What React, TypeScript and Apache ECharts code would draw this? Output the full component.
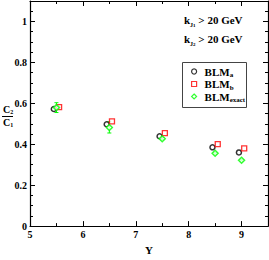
import React, { useEffect, useRef } from "react";
import * as echarts from "echarts";

const xA = [5.45, 6.45, 7.45, 8.45, 8.95];
const yA = [0.572, 0.498, 0.439, 0.385, 0.36];
const xB = [5.55, 6.55, 7.55, 8.55, 9.05];
const yB = [0.581, 0.512, 0.454, 0.401, 0.38];
const xE = [5.5, 6.5, 7.5, 8.5, 9.0];
const yE = [0.579, 0.482, 0.427, 0.356, 0.322];
const errLowE = [0.555, 0.455, 0.422, 0.352, 0.319];
const errHighE = [0.603, 0.51, 0.432, 0.36, 0.325];
const seriesNames = ["BLMa", "BLMb", "BLMexact"];
const legendSubs: Record<string, string> = { BLMa: "a", BLMb: "b", BLMexact: "exact" };

const FONT = "Liberation Serif";

export default function App() {
  const ref = useRef<HTMLDivElement>(null);
  useEffect(() => {
    if (!ref.current) return;
    const chart = echarts.init(ref.current, null, { renderer: "svg" });
    const axisCommon = {
      axisLine: { show: true, onZero: false, lineStyle: { color: "#000", width: 1.2 } },
      axisTick: { show: true, inside: true, length: 5, lineStyle: { color: "#000", width: 1 } },
      minorTick: { show: true, length: 3, lineStyle: { color: "#000", width: 1 } },
      splitLine: { show: false },
    };
    const labelStyle = { fontFamily: FONT, fontWeight: "bold" as const, fontSize: 10, color: "#000" };
    const xBase = { type: "value" as const, min: 5, max: 9.5, interval: 1, ...axisCommon, minorTick: { ...axisCommon.minorTick, splitNumber: 2 } };
    const yBase = { type: "value" as const, min: 0, max: 1.1, interval: 0.2, ...axisCommon, minorTick: { ...axisCommon.minorTick, splitNumber: 4 } };
    const subRich = (size: number) => ({
      k: { fontFamily: FONT, fontWeight: "bold", fontSize: size, fill: "#000", lineHeight: 16, verticalAlign: "middle" },
      s: { fontFamily: FONT, fontWeight: "bold", fontSize: 6, fill: "#000", lineHeight: 7, verticalAlign: "bottom" },
      t: { fontFamily: FONT, fontWeight: "bold", fontSize: 5, fill: "#000", lineHeight: 3, verticalAlign: "bottom" },
    });
    const legendColors: Record<string, string> = { BLMa: "#000", BLMb: "#ff0000", BLMexact: "#00ff00" };
    const legendIcons: Record<string, string> = { BLMa: "circle", BLMb: "rect", BLMexact: "diamond" };
    const option: any = {
      animation: false,
      grid: { left: 30, right: 1, top: 1, bottom: 21, containLabel: false },
      xAxis: [
        {
          ...xBase,
          position: "bottom",
          axisLabel: { ...labelStyle, margin: 3, showMaxLabel: false },
          name: "Y",
          nameLocation: "middle",
          nameGap: 14,
          nameTextStyle: { fontFamily: FONT, fontWeight: "bold", fontSize: 11, color: "#000" },
        },
        { ...xBase, position: "top", axisLabel: { show: false } },
      ],
      yAxis: [
        {
          ...yBase,
          position: "left",
          axisLabel: { ...labelStyle, margin: 3, showMaxLabel: false, formatter: (v: number) => String(Math.round(v * 10) / 10) },
        },
        { ...yBase, position: "right", axisLabel: { show: false } },
      ],
      legend: {
        orient: "vertical",
        left: 182,
        top: 63,
        padding: [3, 6, 2, 9],
        itemWidth: 5,
        itemHeight: 5,
        itemGap: 0,
        data: seriesNames.map((n) => ({
          name: n,
          icon: legendIcons[n],
          itemStyle: { color: "#fff", borderColor: legendColors[n], borderWidth: 1.2 },
        })),
        formatter: (name: string) => `{m|BLM}{s|${legendSubs[name]}}`,
        textStyle: {
          padding: [0, 0, 0, 3],
          rich: {
            m: { fontFamily: FONT, fontWeight: "bold", fontSize: 11, color: "#000", lineHeight: 14, verticalAlign: "middle" },
            s: { fontFamily: FONT, fontWeight: "bold", fontSize: 7, color: "#000", lineHeight: 6, verticalAlign: "bottom" },
          },
        },
      },
      graphic: [
        {
          type: "text",
          left: 184,
          top: 14,
          style: { text: "{k|k}{s|J}{t|1}{k| > 20 GeV}", rich: subRich(11) },
        },
        {
          type: "text",
          left: 184,
          top: 33,
          style: { text: "{k|k}{s|J}{t|2}{k| > 20 GeV}", rich: subRich(11) },
        },
        {
          type: "text",
          left: 3,
          top: 104,
          style: {
            text: "{c|C}{s|2}",
            rich: {
              c: { fontFamily: FONT, fontWeight: "bold", fontSize: 10, fill: "#000", lineHeight: 12, verticalAlign: "middle" },
              s: { fontFamily: FONT, fontWeight: "bold", fontSize: 6, fill: "#000", lineHeight: 5, verticalAlign: "bottom" },
            },
          },
        },
        {
          type: "line",
          shape: { x1: 2, y1: 116.5, x2: 13, y2: 116.5 },
          style: { stroke: "#000", lineWidth: 1 },
        },
        {
          type: "text",
          left: 3,
          top: 117,
          style: {
            text: "{c|C}{s|1}",
            rich: {
              c: { fontFamily: FONT, fontWeight: "bold", fontSize: 10, fill: "#000", lineHeight: 12, verticalAlign: "middle" },
              s: { fontFamily: FONT, fontWeight: "bold", fontSize: 6, fill: "#000", lineHeight: 5, verticalAlign: "bottom" },
            },
          },
        },
      ],
      series: [
        {
          name: "legend-box",
          type: "custom",
          silent: true,
          data: [[5, 0]],
          renderItem: () => ({
            type: "rect",
            shape: { x: 182.5, y: 62.5, width: 64, height: 45 },
            style: { fill: "transparent", stroke: "#444", lineWidth: 1 },
          }),
          z: 5,
        },
        {
          name: "BLMexact-err",
          type: "custom",
          xAxisIndex: 0,
          yAxisIndex: 0,
          data: xE.map((x, i) => [x, errLowE[i], errHighE[i]]),
          renderItem: (params: any, api: any) => {
            const x = api.value(0);
            const lo = api.coord([x, api.value(1)]);
            const hi = api.coord([x, api.value(2)]);
            const cw = 2;
            const st = { stroke: "#00ff00", lineWidth: 1 };
            return {
              type: "group",
              children: [
                { type: "line", shape: { x1: lo[0], y1: lo[1], x2: hi[0], y2: hi[1] }, style: st },
                { type: "line", shape: { x1: lo[0] - cw, y1: lo[1], x2: lo[0] + cw, y2: lo[1] }, style: st },
                { type: "line", shape: { x1: hi[0] - cw, y1: hi[1], x2: hi[0] + cw, y2: hi[1] }, style: st },
              ],
            };
          },
          z: 1,
        },
        {
          name: "BLMa",
          type: "scatter",
          symbol: "circle",
          symbolSize: 5,
          data: xA.map((x, i) => [x, yA[i]]),
          itemStyle: { color: "#fff", borderColor: "#000", borderWidth: 1.5 },
          z: 3,
        },
        {
          name: "BLMb",
          type: "scatter",
          symbol: "rect",
          symbolSize: 5,
          data: xB.map((x, i) => [x, yB[i]]),
          itemStyle: { color: "#fff", borderColor: "#ff0000", borderWidth: 1.3 },
          z: 3,
        },
        {
          name: "BLMexact",
          type: "scatter",
          symbol: "diamond",
          symbolSize: 6,
          data: xE.map((x, i) => [x, yE[i]]),
          itemStyle: { color: "#fff", borderColor: "#00ff00", borderWidth: 1.5 },
          z: 4,
        },
      ],
    };
    chart.setOption(option);
    return () => chart.dispose();
  }, []);
  return <div ref={ref} style={{ position: "fixed", left: 0, top: 0, width: 269, height: 260, background: "#fff" }} />;
}
